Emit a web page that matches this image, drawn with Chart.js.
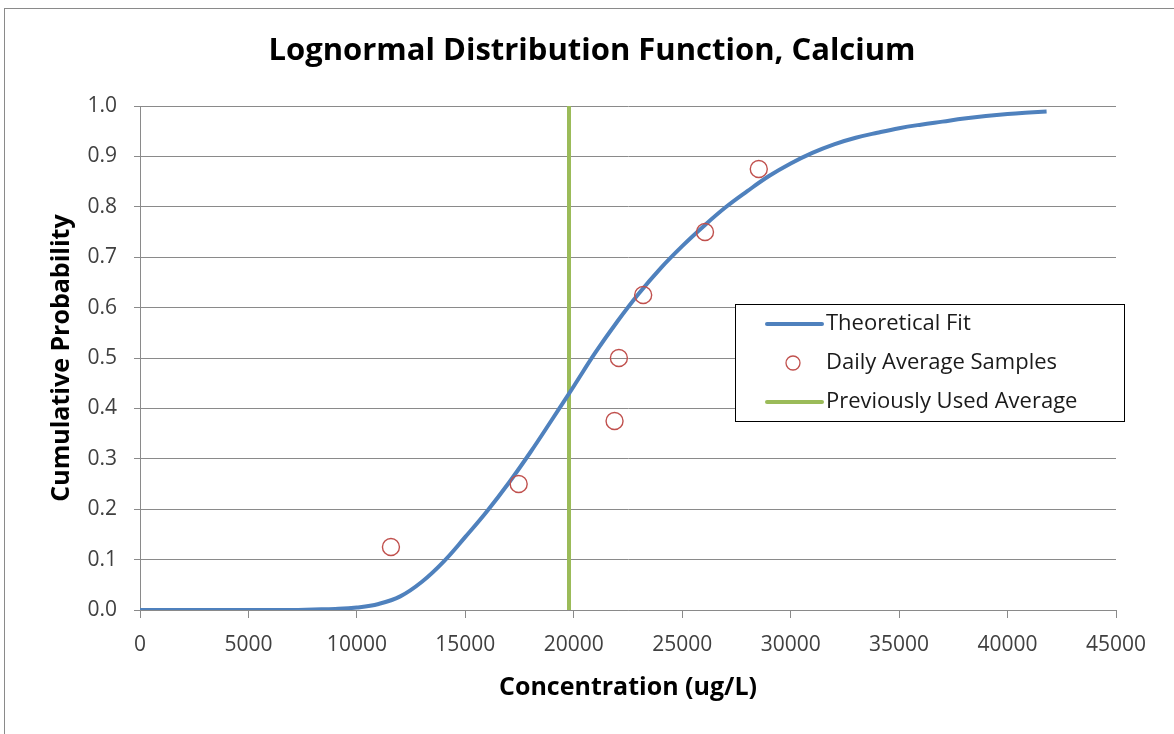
<!DOCTYPE html>
<html>
<head>
<meta charset="utf-8">
<script src="https://cdn.jsdelivr.net/npm/chart.js@4.4.1/dist/chart.umd.min.js"></script>
<style>
  body { margin: 0; background: #fff; }
  #wrap { width: 1174px; height: 734px; position: relative; }
</style>
</head>
<body>
<div id="wrap"><canvas id="chart" width="1174" height="734"></canvas></div>
<script>
// Theoretical fit curve
const fitX = [0, 2000, 4000, 6000, 7000, 8000, 9000, 10000, 11000, 12000, 13000, 14000, 15000,
    16000, 17000, 18000, 19000, 20000, 21000, 22000, 23000, 24000, 25000, 26000, 27000, 28000,
    29000, 30000, 31000, 32000, 33000, 34000, 35000, 36000, 37000, 38000, 39000, 40000, 41000, 41800];
const fitY = [0, 0, 0, 0, 0, 0.001, 0.002, 0.005, 0.012, 0.027, 0.056, 0.096, 0.145,
    0.196, 0.252, 0.313, 0.378, 0.444, 0.511, 0.572, 0.628, 0.678, 0.722, 0.762, 0.799, 0.831,
    0.861, 0.886, 0.907, 0.924, 0.937, 0.947, 0.956, 0.963, 0.969, 0.975, 0.980, 0.984, 0.987, 0.989];

// Daily average samples
const sampleX = [11570, 17460, 21880, 22080, 23200, 26050, 28530];
const sampleY = [0.125, 0.25, 0.375, 0.5, 0.625, 0.75, 0.875];

// Previously used average (vertical line)
const avgX = [19780, 19780];
const avgY = [0, 1];

const xTicks = [0, 5000, 10000, 15000, 20000, 25000, 30000, 35000, 40000, 45000];
const yTicks = [0, 0.1, 0.2, 0.3, 0.4, 0.5, 0.6, 0.7, 0.8, 0.9, 1.0];

const chartTitle = 'Lognormal Distribution Function, Calcium';

const FONT = '"Open Sans", Lato, sans-serif';

function toPoints(xs, ys) {
    return xs.map((x, i) => ({ x: x, y: ys[i] }));
}

// Frame around the whole chart and the title
const framePlugin = {
    id: 'frame',
    beforeDraw(chart) {
        let ctx = chart.ctx;
        ctx.save();
        ctx.strokeStyle = '#8a8a8a';
        ctx.lineWidth = 1;
        ctx.strokeRect(4.5, 8.5, 1300, 900);
        ctx.fillStyle = '#000';
        ctx.font = 'bold 31px ' + FONT;
        ctx.textAlign = 'center';
        ctx.textBaseline = 'middle';
        ctx.fillText(chartTitle, 592, 51);
        ctx.restore();
    }
};

// Legend box drawn inside the plot, like the Excel original
const boxLegend = {
    id: 'boxLegend',
    afterDraw(chart) {
        let ctx = chart.ctx;
        let left = 735, top = 304, w = 389, h = 117;
        ctx.save();
        ctx.fillStyle = '#fff';
        ctx.fillRect(left, top, w, h);
        ctx.strokeStyle = '#000';
        ctx.lineWidth = 1;
        ctx.strokeRect(left + 0.5, top + 0.5, w, h);
        ctx.font = '22px ' + FONT;
        ctx.textBaseline = 'middle';
        chart.data.datasets.forEach((ds, i) => {
            let y = top + 20 + i * 39;
            if (ds.showLine === false) {
                ctx.beginPath();
                ctx.arc(793, y, 7, 0, Math.PI * 2);
                ctx.strokeStyle = ds.borderColor;
                ctx.lineWidth = 1.3;
                ctx.stroke();
            } else {
                ctx.beginPath();
                ctx.moveTo(767, y);
                ctx.lineTo(822, y);
                ctx.strokeStyle = ds.borderColor;
                ctx.lineWidth = 4;
                ctx.lineCap = 'round';
                ctx.stroke();
            }
            ctx.fillStyle = '#1a1a1a';
            ctx.fillText(ds.label, 826, y);
        });
        ctx.restore();
    }
};

let ctx = document.getElementById('chart').getContext('2d');
let chart = new Chart(ctx, {
    type: 'scatter',
    data: {
        datasets: [{
            label: 'Theoretical Fit',
            data: toPoints(fitX, fitY),
            showLine: true,
            borderColor: '#4F81BD',
            borderWidth: 4,
            pointRadius: 0,
            tension: 0.4,
            order: 2
        }, {
            label: 'Daily Average Samples',
            data: toPoints(sampleX, sampleY),
            showLine: false,
            borderColor: '#C0504D',
            backgroundColor: 'rgba(255,255,255,0)',
            borderWidth: 1.4,
            pointRadius: 8.5,
            order: 1
        }, {
            label: 'Previously Used Average',
            data: toPoints(avgX, avgY),
            showLine: true,
            borderColor: '#9BBB59',
            borderWidth: 4,
            pointRadius: 0,
            order: 3
        }]
    },
    options: {
        responsive: false,
        animation: false,
        layout: { padding: { top: 106, right: 58, bottom: 0, left: 0 } },
        plugins: {
            legend: { display: false },
            tooltip: { enabled: false },
            title: { display: false }
        },
        scales: {
            x: {
                type: 'linear',
                min: 0,
                max: 45000,
                afterBuildTicks: (scale) => { scale.ticks = xTicks.map(v => ({ value: v })); },
                afterFit: (scale) => { scale.height = 124; },
                ticks: {
                    color: '#404040',
                    font: { family: FONT, size: 21 },
                    padding: 14,
                    callback: (v) => String(v)
                },
                grid: { color: 'rgba(0,0,0,0)', tickColor: '#8a8a8a', tickLength: 8 },
                border: { display: true, color: '#8a8a8a' },
                title: {
                    display: true,
                    text: 'Concentration (ug/L)',
                    color: '#000',
                    font: { family: FONT, size: 25, weight: 'bold' },
                    padding: 31
                }
            },
            y: {
                min: 0,
                max: 1,
                afterBuildTicks: (scale) => { scale.ticks = yTicks.map(v => ({ value: v })); },
                afterFit: (scale) => { scale.width = 140; },
                ticks: {
                    color: '#404040',
                    font: { family: FONT, size: 21 },
                    padding: 17,
                    callback: (v) => v.toFixed(1)
                },
                grid: { color: '#8a8a8a', tickColor: '#8a8a8a', tickLength: 6 },
                border: { display: true, color: '#8a8a8a' },
                title: {
                    display: true,
                    text: 'Cumulative Probability',
                    color: '#000',
                    font: { family: FONT, size: 25, weight: 'bold' },
                    padding: 47
                }
            }
        }
    },
    plugins: [framePlugin, boxLegend]
});
</script>
</body>
</html>
